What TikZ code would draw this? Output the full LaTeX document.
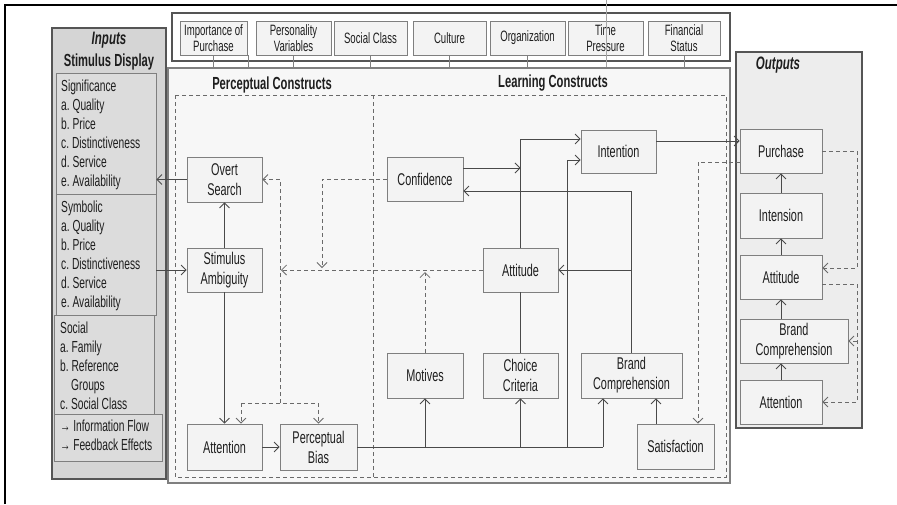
\documentclass[tikz,border=0pt]{standalone}
\usepackage{fontspec}
\setmainfont{Liberation Sans}[FakeStretch=0.64]
\usetikzlibrary{arrows.meta,calc}
\definecolor{bordc}{HTML}{7F7F7F}
\definecolor{darkbord}{HTML}{555555}
\definecolor{boxc}{HTML}{F3F3F3}
\definecolor{mainc}{HTML}{F7F7F7}
\definecolor{inc}{HTML}{D5D5D5}
\definecolor{insub}{HTML}{DCDCDC}
\definecolor{outc}{HTML}{EDEDED}
\definecolor{connc}{HTML}{4A4A4A}
\definecolor{fbc}{HTML}{6A6A6A}
\definecolor{txtc}{HTML}{1E1E1E}
\newcommand\myNodeFont{\fontsize{17}{20}\selectfont}
\newcommand\myInFont{\fontsize{16}{19}\selectfont}
\newcommand\myTopFont{\fontsize{15}{16.5}\selectfont}
\begin{document}
\begin{tikzpicture}[x=1pt,y=-1pt,
  >={Straight Barb[length=5pt,width=10pt]},
  box/.style={draw=bordc, fill=boxc, line width=0.8pt, align=center, inner sep=1pt, font=\myNodeFont, text=txtc},
  topbox/.style={draw=bordc, fill=boxc, line width=0.8pt, align=center, inner sep=1pt, font=\myTopFont, text=txtc, minimum height=34pt},
  subin/.style={draw=bordc, fill=insub, line width=0.8pt, inner sep=0pt},
  intext/.style={anchor=north west, align=left, inner sep=0pt, font=\myInFont, text=txtc},
  ttl/.style={font=\fontsize{17.5}{20}\selectfont\bfseries, text=txtc, inner sep=0pt},
  conn/.style={draw=connc, line width=0.8pt},
  fb/.style={draw=fbc, line width=0.8pt, dash pattern=on 4pt off 3pt},
  tick/.style={draw=bordc, line width=0.7pt},
  frame/.style={inner sep=0pt}]
\useasboundingbox (0,0) rectangle (897,504);
\fill[white] (0,0) rectangle (897,504);
% outer black frame (cropped)
\draw[black, line width=2pt] (5,504) -- (5,5) -- (897,5);

% main box
\node[frame, draw=bordc, fill=mainc, line width=1.2pt, minimum width=562pt, minimum height=415pt] (main) at (449,275.5) {};
% top factor box
\node[frame, draw=darkbord, fill=white, line width=1.2pt, minimum width=558pt, minimum height=48pt] (topfr) at (451,37) {};
\node[topbox, minimum width=67pt] (f1) at (213.5,38) {Importance of\\Purchase};
\node[topbox, minimum width=75pt] (f2) at (293.5,38) {Personality\\Variables};
\node[topbox, minimum width=73pt] (f3) at (370.5,38) {Social Class};
\node[topbox, minimum width=73pt] (f4) at (449.5,38) {Culture};
\node[topbox, minimum width=75pt] (f5) at (527.5,38) {Organization};
\node[topbox, minimum width=75pt] (f6) at (605.5,38) {Time\\Pressure};
\node[topbox, minimum width=72pt] (f7) at (684,38) {Financial\\Status};
\coordinate (t0) at (248,55);
\draw[tick] (f1.south) -- (f1.south |- main.north);
\draw[tick] (t0) -- (t0 |- main.north);
\draw[tick] (f2.south) -- (f2.south |- main.north);
\draw[tick] (f3.south) -- (f3.south |- main.north);
\draw[tick] (f4.south) -- (f4.south |- main.north);
\draw[tick] (f5.south) -- (f5.south |- main.north);
\coordinate (t6) at (606,0);
\draw[tick, draw=bordc!70] (t6) -- (t6 |- main.north);
\draw[tick] (f7.south) -- (f7.south |- main.north);

% dashed construct areas
\draw[fb, line width=1pt] (175,95) rectangle (726,477);
\draw[fb, line width=1pt] (373,95) -- (373,477);
\node[ttl] (pctitle) at (272,85) {Perceptual Constructs};
\node[ttl] (lctitle) at (553,83) {Learning Constructs};

% inputs
\node[frame, draw=darkbord, fill=inc, line width=1.3pt, minimum width=114pt, minimum height=451pt] (inputs) at (109,253.5) {};
\node[font=\fontsize{18}{20}\selectfont\bfseries\itshape, text=txtc, inner sep=0pt] (intitle) at (109,40) {Inputs};
\node[ttl] (stimdisp) at (109,62) {Stimulus Display};
\node[subin, minimum width=100pt, minimum height=121pt] (sig) at (106,133.5) {};
\node[subin, minimum width=100pt, minimum height=121pt] (sym) at (106,254.5) {};
\node[subin, minimum width=100pt, minimum height=99pt] (soc) at (104,364.5) {};
\node[subin, minimum width=108pt, minimum height=47pt] (leg) at (108,437.5) {};
\node[intext] (sigt) at (61,80) {Significance\\a.\ Quality\\b.\ Price\\c.\ Distinctiveness\\d.\ Service\\e.\ Availability};
\node[intext] (symt) at (61,201) {Symbolic\\a.\ Quality\\b.\ Price\\c.\ Distinctiveness\\d.\ Service\\e.\ Availability};
\node[intext] (soct) at (60,322) {Social\\a.\ Family\\b.\ Reference\\\hspace*{11pt}Groups\\c.\ Social Class};
\node[intext] (legt) at (60,420) {→ Information Flow\\→ Feedback Effects};

% outputs
\node[frame, draw=darkbord, fill=outc, line width=1.3pt, minimum width=126pt, minimum height=376pt] (outputs) at (799,240) {};
\node[font=\fontsize{18}{20}\selectfont\bfseries\itshape, text=txtc, inner sep=0pt] (outtitle) at (778,65) {Outputs};

% perceptual nodes
\node[box, minimum width=75pt, minimum height=45pt] (overt) at (224.5,179.5) {Overt\\Search};
\node[box, minimum width=75pt, minimum height=44pt] (stim) at (224.5,270) {Stimulus\\Ambiguity};
\node[box, minimum width=75pt, minimum height=46pt] (aten) at (224.5,447) {Attention};
\node[box, minimum width=77pt, minimum height=46pt] (pb) at (318.5,447) {Perceptual\\Bias};

% learning nodes
\node[box, minimum width=76pt, minimum height=44pt] (conf) at (425,179) {Confidence};
\node[box, minimum width=75pt, minimum height=43pt] (int) at (618.5,151.5) {Intention};
\node[box, minimum width=75pt, minimum height=44pt] (att) at (520.5,270) {Attitude};
\node[box, minimum width=76pt, minimum height=45pt] (mot) at (425,375.5) {Motives};
\node[box, minimum width=75pt, minimum height=45pt] (cho) at (520.5,375.5) {Choice\\Criteria};
\node[box, minimum width=101pt, minimum height=45pt] (bc) at (631.5,375.5) {Brand\\Comprehension};
\node[box, minimum width=77pt, minimum height=45pt] (sat) at (675.5,446.5) {Satisfaction};

% output nodes
\node[box, minimum width=82pt, minimum height=44pt] (pur) at (781,151) {Purchase};
\node[box, minimum width=82pt, minimum height=45pt] (oint) at (781,215.5) {Intension};
\node[box, minimum width=82pt, minimum height=44pt] (oatt) at (781,277) {Attitude};
\node[box, minimum width=108pt, minimum height=44pt] (obc) at (794,341) {Brand\\Comprehension};
\node[box, minimum width=82pt, minimum height=44pt] (oaten) at (781,402) {Attention};

% ---- solid connectors: inputs / perceptual
\draw[conn,->] (overt.west) -- (overt.west -| sig.east);
\draw[conn,->] (sym.east |- stim.west) -- (stim.west);
\draw[conn,->] (stim.north) -- (overt.south);
\draw[conn,->] (stim.south) -- (aten.north);
\draw[conn,->] (aten.east) -- (pb.west);

% ---- perceptual feedback (dashed)
\coordinate (pl1) at (280,403);
\coordinate (plL) at (241,403);
\draw[fb,->] (pl1) -- (pl1 |- overt.east) -- (overt.east);
\draw[fb,->] (plL) -- (plL |- aten.north);
\draw[fb,->] (plL) -- (plL -| pb.north) -- (pb.north);
\coordinate (stimFb) at (281,270);
\draw[fb,->] (att.west) -- (stimFb);
\coordinate (cfA) at (322,179);
\coordinate (cfB) at (322,268);
\draw[fb,->] (conf.west) -- (cfA) -- (cfB);
\coordinate (motTip) at (425,272);
\draw[fb,->] (mot.north) -- (motTip);

% ---- learning connectors
\coordinate (busEnd) at (603,447);
\coordinate (busInt) at (567,447);
\coordinate (intLow) at (567,160);
\draw[conn] (pb.east) -- (busEnd);
\draw[conn,->] (busEnd) -- (busEnd |- bc.south);
\draw[conn,->] (mot.south |- busEnd) -- (mot.south);
\draw[conn,->] (cho.south |- busEnd) -- (cho.south);
\draw[conn,->] (busInt) -- (intLow) -- (intLow -| int.west);
\coordinate (attTop) at (520.5,139);
\draw[conn,->] (att.north) -- (attTop) -- (attTop -| int.west);
\coordinate (confIn) at (520.5,168);
\draw[conn,->] (conf.east |- confIn) -- (confIn);
\coordinate (bcTop) at (631.5,191);
\draw[conn,->] (bc.north) -- (bcTop) -- (bcTop -| conf.east);
\draw[conn,->] (bc.north |- att.east) -- (att.east);
\draw[conn] (cho.north) -- (att.south);
\coordinate (satUp) at (656,0);
\draw[conn,->] (satUp |- sat.north) -- (satUp |- bc.south);
\coordinate (ip) at (0,141);
\draw[conn,->] (int.east |- ip) -- (pur.west |- ip);
\coordinate (fbS) at (698,162);
\draw[fb,->] (pur.west |- fbS) -- (fbS) -- (fbS |- sat.north);

% ---- outputs connectors
\draw[conn,->] (oint.north) -- (pur.south);
\draw[conn,->] (oatt.north) -- (oint.south);
\draw[conn,->] (oatt.south |- obc.north) -- (oatt.south);
\draw[conn,->] (oaten.north) -- (oaten.north |- obc.south);
\coordinate (oR) at (857,0);
\coordinate (oattIn) at ([yshift=9pt]oatt.east);
\coordinate (oattOut) at ([yshift=-7pt]oatt.east);
\draw[fb,->] (pur.east) -- (pur.east -| oR) -- (oR |- oattIn) -- (oattIn);
\draw[fb,->] (oattOut) -- (oattOut -| oR) -- (oR |- oaten.east) -- (oaten.east);
\draw[fb,->] (oR |- obc.east) -- (obc.east);
\end{tikzpicture}
\end{document}
